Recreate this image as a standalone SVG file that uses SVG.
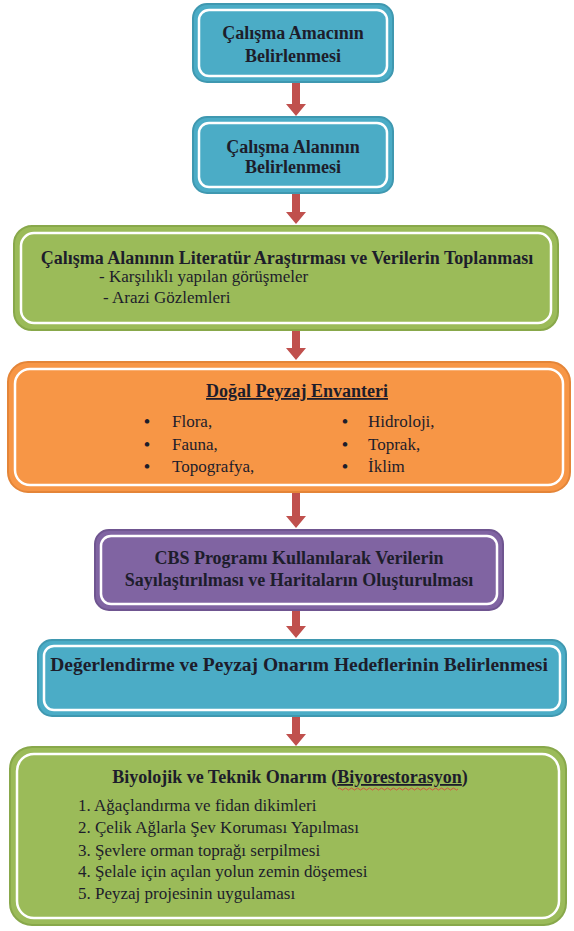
<svg xmlns="http://www.w3.org/2000/svg" width="574" height="931" viewBox="0 0 574 931" font-family="Liberation Serif, DejaVu Serif, serif">
<style>
.t{font-weight:bold;font-size:18px;fill:#1d1d2b;text-anchor:middle}
.r{font-size:17px;fill:#1d1d2b}
.in{fill:none;stroke:#fff;stroke-width:2.5}
.blue{fill:#4BACC6;stroke:#3f98b0;stroke-width:2}
.green{fill:#9BBB59;stroke:#88a84a;stroke-width:2}
.orange{fill:#F79646;stroke:#e48538;stroke-width:2}
.purple{fill:#8064A2;stroke:#6f5590;stroke-width:2}
.arr{fill:#C0504D}
</style>
<rect width="574" height="931" fill="#fff"/>
<g id="connectors">
<path class="arr" d="M292,82 h8 v22 h6 l-10,12 l-10,-12 h6 z"/>
<path class="arr" d="M292,193 h8 v19 h6 l-10,12 l-10,-12 h6 z"/>
<path class="arr" d="M292,330 h8 v18 h6 l-10,12 l-10,-12 h6 z"/>
<path class="arr" d="M292,492 h8 v24 h6 l-10,12 l-10,-12 h6 z"/>
<path class="arr" d="M292,610 h8 v16 h6 l-10,12 l-10,-12 h6 z"/>
<path class="arr" d="M292,716 h8 v18 h6 l-10,12 l-10,-12 h6 z"/>
</g>
<g id="n1">
<rect class="blue" x="193" y="4" width="200" height="78" rx="14"/>
<rect class="in" x="199" y="10" width="188" height="66" rx="10"/>
<text class="t" x="293" y="39">Çalışma Amacının</text>
<text class="t" x="293" y="62">Belirlenmesi</text>
</g>
<g id="n2">
<rect class="blue" x="193" y="117" width="200" height="76" rx="14"/>
<rect class="in" x="199" y="123" width="188" height="64" rx="10"/>
<text class="t" x="293" y="153">Çalışma Alanının</text>
<text class="t" x="293" y="173">Belirlenmesi</text>
</g>
<g id="n3">
<rect class="green" x="14" y="226" width="544" height="104" rx="18"/>
<rect class="in" x="21" y="233" width="530" height="90" rx="13"/>
<text class="t" x="287" y="264">Çalışma Alanının Literatür Araştırması ve Verilerin Toplanması</text>
<text class="r" x="99" y="282">-  Karşılıklı yapılan görüşmeler</text>
<text class="r" x="103" y="303">- Arazi Gözlemleri</text>
</g>
<g id="n4">
<rect class="orange" x="8" y="362" width="562" height="130" rx="20"/>
<rect class="in" x="15" y="369" width="548" height="116" rx="15"/>
<text class="t" x="297" y="397" text-decoration="underline">Doğal Peyzaj Envanteri</text>
<text class="r" x="144" y="427" font-weight="bold">•</text>
<text class="r" x="172" y="427">Flora,</text>
<text class="r" x="144" y="450" font-weight="bold">•</text>
<text class="r" x="172" y="450">Fauna,</text>
<text class="r" x="144" y="472" font-weight="bold">•</text>
<text class="r" x="172" y="472">Topografya,</text>
<text class="r" x="342" y="427" font-weight="bold">•</text>
<text class="r" x="368" y="427">Hidroloji,</text>
<text class="r" x="342" y="450" font-weight="bold">•</text>
<text class="r" x="368" y="450">Toprak,</text>
<text class="r" x="342" y="472" font-weight="bold">•</text>
<text class="r" x="368" y="472">İklim</text>
</g>
<g id="n5">
<rect class="purple" x="95" y="530" width="408" height="80" rx="14"/>
<rect class="in" x="101" y="536" width="396" height="68" rx="10"/>
<text class="t" x="299" y="564">CBS Programı Kullanılarak Verilerin</text>
<text class="t" x="299" y="586">Sayılaştırılması ve Haritaların Oluşturulması</text>
</g>
<g id="n6">
<rect class="blue" x="38" y="640" width="528" height="76" rx="14"/>
<rect class="in" x="44" y="646" width="516" height="64" rx="10"/>
<text class="t" x="299" y="671" style="font-size:19.5px">Değerlendirme ve Peyzaj Onarım Hedeflerinin Belirlenmesi</text>
</g>
<g id="n7">
<rect class="green" x="10" y="747" width="556" height="178" rx="22"/>
<rect class="in" x="17" y="754" width="542" height="164" rx="17"/>
<text class="t" x="290" y="783">Biyolojik ve Teknik Onarım (<tspan text-decoration="underline">Biyorestorasyon</tspan>)</text>
<path d="M338,789 q1.5,-2 3,0 t3,0 t3,0 t3,0 t3,0 t3,0 t3,0 t3,0 t3,0 t3,0 t3,0 t3,0 t3,0 t3,0 t3,0 t3,0 t3,0 t3,0 t3,0 t3,0 t3,0 t3,0 t3,0 t3,0 t3,0 t3,0 t3,0 t3,0 t3,0 t3,0 t3,0 t3,0 t3,0 t3,0 t3,0 t3,0 t3,0 t3,0 t3,0 t3,0" fill="none" stroke="#e03a3a" stroke-width="0.8"/>
<text class="r" x="78" y="811">1. Ağaçlandırma ve fidan dikimleri</text>
<text class="r" x="78" y="833">2. Çelik Ağlarla Şev Koruması Yapılması</text>
<text class="r" x="78" y="856">3. Şevlere orman toprağı serpilmesi</text>
<text class="r" x="78" y="877">4. Şelale için açılan yolun zemin döşemesi</text>
<text class="r" x="78" y="899">5. Peyzaj projesinin uygulaması</text>
</g>
</svg>
